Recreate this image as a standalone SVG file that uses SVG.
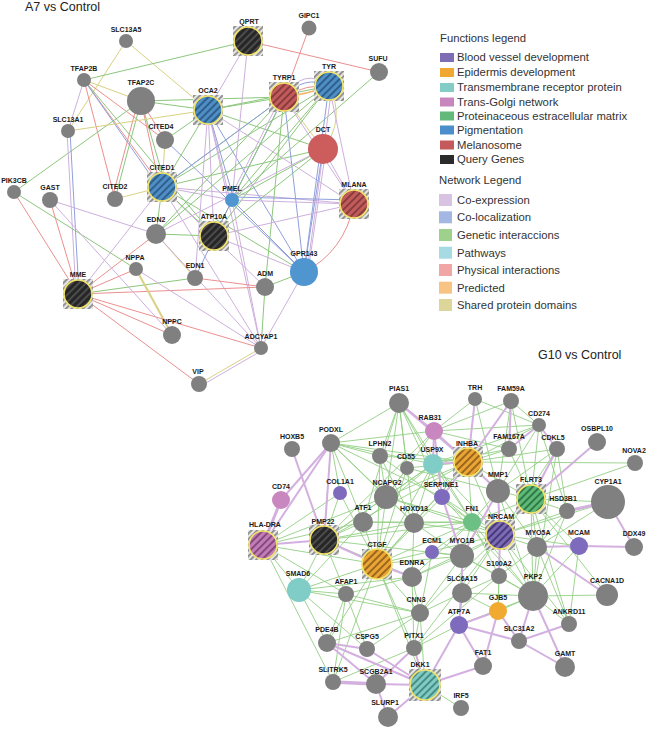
<svg xmlns="http://www.w3.org/2000/svg" width="650" height="730" viewBox="0 0 650 730">
<style>
.t{font-family:"Liberation Sans",Arial,sans-serif;font-size:12.5px;fill:#222}
.lg{font-family:"Liberation Sans",Arial,sans-serif;font-size:11.3px;fill:#333}
.l{font-family:"Liberation Sans",Arial,sans-serif;font-size:7px;font-weight:bold;fill:#1a1a1a;text-anchor:middle}
.n{fill:#808080}
.ring{stroke:#f2e46a;stroke-width:1.6}
#edges line,#edges path{fill:none}
.r{stroke:#ec8f8f;stroke-width:1}
.g{stroke:#8cc77c;stroke-width:1}
.p{stroke:#cdb0dd;stroke-width:1}
.b{stroke:#8f9fdc;stroke-width:1}
.y{stroke:#d9d183;stroke-width:1}
.o{stroke:#f3b56a;stroke-width:1.6}
.bg{stroke:#93cf84;stroke-width:0.9}
.bp{stroke:#d3b0df;stroke-width:2}
</style>
<defs>
<pattern id="hs" patternUnits="userSpaceOnUse" width="4" height="4" patternTransform="rotate(45)"><rect width="4" height="4" fill="#e6e6e6"/><rect width="1.8" height="4" fill="#8a8a8a"/></pattern>
<pattern id="hb" patternUnits="userSpaceOnUse" width="5" height="5" patternTransform="rotate(45)"><rect width="5" height="5" fill="#4f8fc6"/><rect width="2" height="5" fill="#2f5f8c"/></pattern>
<pattern id="hr" patternUnits="userSpaceOnUse" width="5" height="5" patternTransform="rotate(45)"><rect width="5" height="5" fill="#c25c5c"/><rect width="2" height="5" fill="#8a3b3b"/></pattern>
<pattern id="hk" patternUnits="userSpaceOnUse" width="5" height="5" patternTransform="rotate(45)"><rect width="5" height="5" fill="#262626"/><rect width="2" height="5" fill="#4c4c4c"/></pattern>
<pattern id="ho" patternUnits="userSpaceOnUse" width="5" height="5" patternTransform="rotate(45)"><rect width="5" height="5" fill="#eaa533"/><rect width="2" height="5" fill="#9a6620"/></pattern>
<pattern id="hp" patternUnits="userSpaceOnUse" width="5" height="5" patternTransform="rotate(45)"><rect width="5" height="5" fill="#c27db7"/><rect width="2" height="5" fill="#864a7e"/></pattern>
<pattern id="hg" patternUnits="userSpaceOnUse" width="5" height="5" patternTransform="rotate(45)"><rect width="5" height="5" fill="#5fba7a"/><rect width="2" height="5" fill="#2f7a46"/></pattern>
<pattern id="hv" patternUnits="userSpaceOnUse" width="5" height="5" patternTransform="rotate(45)"><rect width="5" height="5" fill="#7c6ab3"/><rect width="2" height="5" fill="#463a7c"/></pattern>
<pattern id="ht" patternUnits="userSpaceOnUse" width="5" height="5" patternTransform="rotate(45)"><rect width="5" height="5" fill="#80ccc5"/><rect width="2" height="5" fill="#4a8c86"/></pattern>
</defs>
<rect width="650" height="730" fill="#ffffff"/>
<text class="t" x="25" y="11">A7 vs Control</text>
<text class="t" x="538" y="359">G10 vs Control</text>

<g id="legend">
<text class="lg" x="440" y="42">Functions legend</text>
<rect x="440" y="53" width="14" height="9" fill="#7e6cb4"/><text class="lg" x="457" y="61.3">Blood vessel development</text>
<rect x="440" y="68" width="14" height="9" fill="#f0a832"/><text class="lg" x="457" y="76.3">Epidermis development</text>
<rect x="440" y="83" width="14" height="9" fill="#83cdc6"/><text class="lg" x="457" y="91.3">Transmembrane receptor protein</text>
<rect x="440" y="97.5" width="14" height="9" fill="#c787be"/><text class="lg" x="457" y="105.7">Trans-Golgi network</text>
<rect x="440" y="111.5" width="14" height="9" fill="#63b97a"/><text class="lg" x="457" y="120">Proteinaceous estracellular matrix</text>
<rect x="440" y="125.5" width="14" height="9" fill="#4a8fcc"/><text class="lg" x="457" y="134">Pigmentation</text>
<rect x="440" y="140.5" width="14" height="9" fill="#c45a5a"/><text class="lg" x="457" y="149">Melanosome</text>
<rect x="440" y="155" width="14" height="9" fill="#2b2b2b"/><text class="lg" x="457" y="163.3">Query Genes</text>
<text class="lg" x="439" y="184">Network Legend</text>
<rect x="439" y="194" width="13" height="12" fill="#d9c3e3"/><text class="lg" x="457" y="204">Co-expression</text>
<rect x="439" y="211.3" width="13" height="12" fill="#a4b7e3"/><text class="lg" x="457" y="221.3">Co-localization</text>
<rect x="439" y="229" width="13" height="12" fill="#9dd18c"/><text class="lg" x="457" y="239">Genetic interaccions</text>
<rect x="439" y="246.7" width="13" height="12" fill="#a6dbe3"/><text class="lg" x="457" y="256.7">Pathways</text>
<rect x="439" y="264" width="13" height="12" fill="#f2a5a5"/><text class="lg" x="457" y="274">Physical interactions</text>
<rect x="439" y="281.7" width="13" height="12" fill="#f8c484"/><text class="lg" x="457" y="291.7">Predicted</text>
<rect x="439" y="299" width="13" height="12" fill="#dcd69a"/><text class="lg" x="457" y="309">Shared protein domains</text>
</g>

<g id="edges">
<line class="y" x1="126" y1="41" x2="208" y2="110"/>
<line class="y" x1="126" y1="41" x2="68" y2="131"/>
<line class="g" x1="84" y1="80" x2="248" y2="41"/>
<line class="y" x1="84" y1="80" x2="141" y2="101"/>
<line class="r" x1="84" y1="80" x2="165" y2="140"/>
<line class="r" x1="84" y1="80" x2="162" y2="187"/>
<line class="g" x1="84" y1="80" x2="214" y2="236"/>
<line class="b" x1="84" y1="80" x2="158" y2="186"/>
<line class="r" x1="84" y1="80" x2="115" y2="199"/>
<line class="p" x1="84" y1="80" x2="68" y2="131"/>
<line class="g" x1="141" y1="101" x2="208" y2="110"/>
<line class="r" x1="141" y1="101" x2="165" y2="140"/>
<line class="r" x1="141" y1="101" x2="160" y2="187"/>
<line class="g" x1="141" y1="101" x2="166" y2="187"/>
<line class="g" x1="141" y1="101" x2="115" y2="199"/>
<line class="r" x1="138" y1="101" x2="112" y2="199"/>
<line class="g" x1="141" y1="101" x2="14" y2="192"/>
<line class="g" x1="141" y1="101" x2="284" y2="97"/>
<line class="y" x1="68" y1="131" x2="208" y2="110"/>
<line class="p" x1="67" y1="131" x2="76" y2="294"/>
<line class="b" x1="70" y1="131" x2="79" y2="294"/>
<line class="y" x1="165" y1="140" x2="162" y2="187"/>
<line class="g" x1="165" y1="140" x2="208" y2="110"/>
<line class="b" x1="165" y1="140" x2="304" y2="272"/>
<line class="g" x1="162" y1="187" x2="208" y2="110"/>
<line class="g" x1="162" y1="187" x2="284" y2="97"/>
<line class="g" x1="162" y1="187" x2="329" y2="86"/>
<line class="g" x1="162" y1="187" x2="323" y2="149"/>
<line class="p" x1="162" y1="187" x2="232" y2="200"/>
<line class="p" x1="162" y1="187" x2="354" y2="204"/>
<line class="g" x1="162" y1="187" x2="304" y2="272"/>
<line class="p" x1="162" y1="187" x2="78" y2="294"/>
<line class="y" x1="162" y1="187" x2="115" y2="199"/>
<line class="g" x1="162" y1="187" x2="156" y2="234"/>
<line class="p" x1="162" y1="187" x2="265" y2="287"/>
<line class="g" x1="162" y1="187" x2="214" y2="236"/>
<line class="p" x1="162" y1="187" x2="261" y2="348"/>
<line class="p" x1="208" y1="110" x2="248" y2="41"/>
<line class="g" x1="208" y1="110" x2="284" y2="97"/>
<line class="g" x1="208" y1="110" x2="329" y2="86"/>
<line class="g" x1="208" y1="110" x2="323" y2="149"/>
<line class="p" x1="208" y1="110" x2="230" y2="200"/>
<line class="b" x1="208" y1="110" x2="234" y2="200"/>
<line class="p" x1="208" y1="110" x2="354" y2="204"/>
<line class="b" x1="208" y1="110" x2="304" y2="272"/>
<line class="p" x1="208" y1="110" x2="214" y2="236"/>
<line class="p" x1="208" y1="110" x2="195" y2="278"/>
<line class="p" x1="208" y1="110" x2="261" y2="348"/>
<line class="r" x1="248" y1="41" x2="379" y2="72"/>
<line class="p" x1="248" y1="41" x2="232" y2="200"/>
<line class="r" x1="309" y1="28" x2="284" y2="97"/>
<line class="g" x1="379" y1="72" x2="232" y2="200"/>
<path class="p" d="M284,97 Q304,66 329,86"/>
<path class="b" d="M284,97 Q305,74 329,86"/>
<path class="r" d="M284,97 Q306,84 329,86"/>
<path class="o" d="M284,97 Q308,94 329,86"/>
<line class="y" x1="284" y1="97" x2="323" y2="149"/>
<path class="y" d="M329,86 Q346,120 323,149"/>
<line class="b" x1="284" y1="97" x2="232" y2="200"/>
<line class="p" x1="281" y1="97" x2="229" y2="200"/>
<line class="p" x1="284" y1="97" x2="354" y2="204"/>
<line class="b" x1="284" y1="97" x2="304" y2="272"/>
<line class="g" x1="284" y1="97" x2="214" y2="236"/>
<line class="g" x1="284" y1="97" x2="156" y2="234"/>
<line class="g" x1="284" y1="97" x2="265" y2="287"/>
<line class="b" x1="284" y1="97" x2="162" y2="187"/>
<line class="p" x1="329" y1="86" x2="354" y2="204"/>
<line class="b" x1="329" y1="86" x2="304" y2="272"/>
<line class="p" x1="332" y1="86" x2="307" y2="272"/>
<line class="g" x1="329" y1="86" x2="232" y2="200"/>
<line class="g" x1="329" y1="86" x2="156" y2="234"/>
<line class="g" x1="329" y1="86" x2="214" y2="236"/>
<line class="p" x1="323" y1="149" x2="354" y2="204"/>
<line class="b" x1="323" y1="149" x2="304" y2="272"/>
<line class="p" x1="326" y1="149" x2="308" y2="272"/>
<line class="g" x1="323" y1="149" x2="232" y2="200"/>
<line class="g" x1="323" y1="149" x2="214" y2="236"/>
<line class="p" x1="323" y1="149" x2="156" y2="234"/>
<line class="p" x1="232" y1="200" x2="354" y2="204"/>
<line class="b" x1="232" y1="197" x2="354" y2="200"/>
<line class="b" x1="232" y1="200" x2="304" y2="272"/>
<line class="p" x1="232" y1="200" x2="261" y2="348"/>
<line class="b" x1="232" y1="200" x2="195" y2="278"/>
<path class="r" d="M354,204 Q344,252 304,272"/>
<line class="p" x1="354" y1="204" x2="214" y2="236"/>
<line class="p" x1="214" y1="236" x2="304" y2="272"/>
<line class="g" x1="214" y1="236" x2="156" y2="234"/>
<line class="y" x1="156" y1="234" x2="195" y2="278"/>
<line class="r" x1="156" y1="234" x2="78" y2="294"/>
<line class="p" x1="156" y1="234" x2="50" y2="200"/>
<line class="p" x1="156" y1="234" x2="261" y2="348"/>
<line class="g" x1="304" y1="272" x2="265" y2="287"/>
<line class="p" x1="304" y1="272" x2="261" y2="348"/>
<line class="g" x1="265" y1="287" x2="261" y2="348"/>
<line class="r" x1="78" y1="294" x2="265" y2="287"/>
<line class="r" x1="195" y1="278" x2="265" y2="287"/>
<line class="g" x1="78" y1="294" x2="195" y2="278"/>
<line class="y" x1="136" y1="269" x2="172" y2="335" style="stroke-width:2"/>
<line class="r" x1="136" y1="269" x2="78" y2="294"/>
<line class="p" x1="136" y1="269" x2="261" y2="348"/>
<line class="g" x1="136" y1="269" x2="14" y2="192"/>
<line class="r" x1="78" y1="294" x2="14" y2="192"/>
<line class="r" x1="78" y1="294" x2="50" y2="200"/>
<line class="r" x1="78" y1="294" x2="172" y2="335"/>
<line class="r" x1="78" y1="294" x2="199" y2="384"/>
<line class="r" x1="78" y1="294" x2="261" y2="348"/>
<line class="p" x1="50" y1="200" x2="172" y2="335"/>
<line class="y" x1="199" y1="384" x2="261" y2="348"/>
<line class="p" x1="199" y1="387" x2="261" y2="351"/>

<line class="bg" x1="399" y1="403" x2="331" y2="443"/>
<line class="bg" x1="399" y1="403" x2="380" y2="456"/>
<line class="bg" x1="399" y1="403" x2="386" y2="497"/>
<line class="bg" x1="399" y1="403" x2="433" y2="464"/>
<line class="bg" x1="399" y1="403" x2="407" y2="468"/>
<line class="bg" x1="399" y1="403" x2="414" y2="523"/>
<line class="bg" x1="399" y1="403" x2="363" y2="522"/>
<line class="bg" x1="399" y1="403" x2="472" y2="522"/>
<line class="bg" x1="399" y1="403" x2="442" y2="497"/>
<line class="bg" x1="331" y1="443" x2="340" y2="493"/>
<line class="bg" x1="331" y1="443" x2="386" y2="497"/>
<line class="bg" x1="331" y1="443" x2="363" y2="522"/>
<line class="bg" x1="331" y1="443" x2="414" y2="523"/>
<line class="bg" x1="331" y1="443" x2="434" y2="431"/>
<line class="bg" x1="331" y1="443" x2="433" y2="464"/>
<line class="bg" x1="331" y1="443" x2="468" y2="462"/>
<line class="bg" x1="331" y1="443" x2="324" y2="540"/>
<line class="bg" x1="331" y1="443" x2="442" y2="497"/>
<line class="bg" x1="331" y1="443" x2="380" y2="456"/>
<line class="bg" x1="380" y1="456" x2="386" y2="497"/>
<line class="bg" x1="380" y1="456" x2="414" y2="523"/>
<line class="bg" x1="380" y1="456" x2="468" y2="462"/>
<line class="bg" x1="380" y1="456" x2="377" y2="564"/>
<line class="bg" x1="380" y1="456" x2="472" y2="522"/>
<line class="bg" x1="407" y1="468" x2="468" y2="462"/>
<line class="bg" x1="407" y1="468" x2="386" y2="497"/>
<line class="bg" x1="407" y1="468" x2="377" y2="564"/>
<line class="bg" x1="407" y1="468" x2="498" y2="491"/>
<line class="bg" x1="433" y1="464" x2="386" y2="497"/>
<line class="bg" x1="433" y1="464" x2="324" y2="540"/>
<line class="bg" x1="433" y1="464" x2="377" y2="564"/>
<line class="bg" x1="433" y1="464" x2="363" y2="522"/>
<line class="bg" x1="433" y1="464" x2="414" y2="523"/>
<line class="bg" x1="433" y1="464" x2="472" y2="522"/>
<line class="bg" x1="433" y1="464" x2="500" y2="535"/>
<line class="bg" x1="434" y1="431" x2="509" y2="449"/>
<line class="bg" x1="434" y1="431" x2="539" y2="425"/>
<line class="bg" x1="434" y1="431" x2="324" y2="540"/>
<line class="bg" x1="434" y1="431" x2="386" y2="497"/>
<line class="bg" x1="475" y1="399" x2="498" y2="491"/>
<line class="bg" x1="475" y1="399" x2="539" y2="425"/>
<line class="bg" x1="475" y1="399" x2="434" y2="431"/>
<line class="bg" x1="511" y1="401" x2="539" y2="425"/>
<line class="bg" x1="511" y1="401" x2="434" y2="431"/>
<line class="bg" x1="511" y1="401" x2="531" y2="499"/>
<line class="bg" x1="511" y1="401" x2="498" y2="491"/>
<line class="bg" x1="539" y1="425" x2="468" y2="462"/>
<line class="bg" x1="539" y1="425" x2="531" y2="499"/>
<line class="bg" x1="539" y1="425" x2="567" y2="511"/>
<line class="bg" x1="539" y1="425" x2="498" y2="491"/>
<line class="bg" x1="539" y1="425" x2="433" y2="464"/>
<line class="bg" x1="509" y1="449" x2="468" y2="462"/>
<line class="bg" x1="509" y1="449" x2="531" y2="499"/>
<line class="bg" x1="509" y1="449" x2="433" y2="464"/>
<line class="bg" x1="557" y1="449" x2="468" y2="462"/>
<line class="bg" x1="557" y1="449" x2="498" y2="491"/>
<line class="bg" x1="557" y1="449" x2="567" y2="511"/>
<line class="bg" x1="557" y1="449" x2="500" y2="535"/>
<line class="bg" x1="557" y1="449" x2="533" y2="596"/>
<line class="bg" x1="635" y1="463" x2="468" y2="462"/>
<line class="bg" x1="635" y1="463" x2="531" y2="499"/>
<line class="bg" x1="468" y1="462" x2="386" y2="497"/>
<line class="bg" x1="468" y1="462" x2="472" y2="522"/>
<line class="bg" x1="468" y1="462" x2="377" y2="564"/>
<line class="bg" x1="468" y1="462" x2="324" y2="540"/>
<line class="bg" x1="468" y1="462" x2="414" y2="523"/>
<line class="bg" x1="468" y1="462" x2="500" y2="535"/>
<line class="bg" x1="468" y1="462" x2="531" y2="499"/>
<line class="bg" x1="340" y1="493" x2="377" y2="564"/>
<line class="bg" x1="340" y1="493" x2="324" y2="540"/>
<line class="bg" x1="340" y1="493" x2="263" y2="545"/>
<line class="bg" x1="386" y1="497" x2="377" y2="564"/>
<line class="bg" x1="386" y1="497" x2="324" y2="540"/>
<line class="bg" x1="386" y1="497" x2="414" y2="523"/>
<line class="bg" x1="386" y1="497" x2="472" y2="522"/>
<line class="bg" x1="386" y1="497" x2="500" y2="535"/>
<line class="bg" x1="386" y1="497" x2="263" y2="545"/>
<line class="bg" x1="442" y1="497" x2="377" y2="564"/>
<line class="bg" x1="442" y1="497" x2="472" y2="522"/>
<line class="bg" x1="442" y1="497" x2="533" y2="596"/>
<line class="bg" x1="442" y1="497" x2="500" y2="535"/>
<line class="bg" x1="363" y1="522" x2="324" y2="540"/>
<line class="bg" x1="363" y1="522" x2="377" y2="564"/>
<line class="bg" x1="363" y1="522" x2="414" y2="523"/>
<line class="bg" x1="363" y1="522" x2="299" y2="590"/>
<line class="bg" x1="363" y1="522" x2="263" y2="545"/>
<line class="bg" x1="363" y1="522" x2="472" y2="522"/>
<line class="bg" x1="414" y1="523" x2="377" y2="564"/>
<line class="bg" x1="414" y1="523" x2="472" y2="522"/>
<line class="bg" x1="414" y1="523" x2="500" y2="535"/>
<line class="bg" x1="414" y1="523" x2="462" y2="556"/>
<line class="bg" x1="414" y1="523" x2="324" y2="540"/>
<line class="bg" x1="414" y1="523" x2="412" y2="577"/>
<line class="bg" x1="324" y1="540" x2="299" y2="590"/>
<line class="bg" x1="324" y1="540" x2="346" y2="594"/>
<line class="bg" x1="324" y1="540" x2="472" y2="522"/>
<line class="bg" x1="324" y1="540" x2="412" y2="577"/>
<line class="bg" x1="324" y1="540" x2="462" y2="556"/>
<line class="bg" x1="263" y1="545" x2="299" y2="590"/>
<line class="bg" x1="263" y1="545" x2="333" y2="682"/>
<line class="bg" x1="263" y1="545" x2="377" y2="564"/>
<line class="bg" x1="263" y1="545" x2="346" y2="594"/>
<line class="bg" x1="299" y1="590" x2="377" y2="564"/>
<line class="bg" x1="299" y1="590" x2="346" y2="594"/>
<line class="bg" x1="299" y1="590" x2="420" y2="613"/>
<line class="bg" x1="299" y1="590" x2="412" y2="577"/>
<line class="bg" x1="299" y1="590" x2="367" y2="649"/>
<line class="bg" x1="299" y1="590" x2="327" y2="643"/>
<line class="bg" x1="377" y1="564" x2="472" y2="522"/>
<line class="bg" x1="377" y1="564" x2="462" y2="556"/>
<line class="bg" x1="377" y1="564" x2="500" y2="535"/>
<line class="bg" x1="377" y1="564" x2="420" y2="613"/>
<line class="bg" x1="377" y1="564" x2="327" y2="643"/>
<line class="bg" x1="377" y1="564" x2="333" y2="682"/>
<line class="bg" x1="377" y1="564" x2="414" y2="648"/>
<line class="bg" x1="377" y1="564" x2="425" y2="685"/>
<line class="bg" x1="346" y1="594" x2="327" y2="643"/>
<line class="bg" x1="346" y1="594" x2="420" y2="613"/>
<line class="bg" x1="346" y1="594" x2="412" y2="577"/>
<line class="bg" x1="346" y1="594" x2="333" y2="682"/>
<line class="bg" x1="346" y1="594" x2="367" y2="649"/>
<line class="bg" x1="412" y1="577" x2="420" y2="613"/>
<line class="bg" x1="412" y1="577" x2="472" y2="522"/>
<line class="bg" x1="412" y1="577" x2="462" y2="556"/>
<line class="bg" x1="412" y1="577" x2="414" y2="648"/>
<line class="bg" x1="412" y1="577" x2="500" y2="535"/>
<line class="bg" x1="432" y1="552" x2="472" y2="522"/>
<line class="bg" x1="432" y1="552" x2="462" y2="556"/>
<line class="bg" x1="432" y1="552" x2="420" y2="613"/>
<line class="bg" x1="472" y1="522" x2="500" y2="535"/>
<line class="bg" x1="472" y1="522" x2="462" y2="556"/>
<line class="bg" x1="472" y1="522" x2="498" y2="491"/>
<line class="bg" x1="472" y1="522" x2="531" y2="499"/>
<line class="bg" x1="472" y1="522" x2="533" y2="596"/>
<line class="bg" x1="472" y1="522" x2="499" y2="576"/>
<line class="bg" x1="498" y1="491" x2="531" y2="499"/>
<line class="bg" x1="498" y1="491" x2="537" y2="547"/>
<line class="bg" x1="498" y1="491" x2="533" y2="596"/>
<line class="bg" x1="531" y1="499" x2="500" y2="535"/>
<line class="bg" x1="531" y1="499" x2="567" y2="511"/>
<line class="bg" x1="531" y1="499" x2="608" y2="502"/>
<line class="bg" x1="531" y1="499" x2="537" y2="547"/>
<line class="bg" x1="531" y1="499" x2="533" y2="596"/>
<line class="bg" x1="531" y1="499" x2="569" y2="624"/>
<line class="bg" x1="531" y1="499" x2="579" y2="546"/>
<line class="bg" x1="608" y1="502" x2="500" y2="535"/>
<line class="bg" x1="608" y1="502" x2="537" y2="547"/>
<line class="bg" x1="567" y1="511" x2="537" y2="547"/>
<line class="bg" x1="567" y1="511" x2="533" y2="596"/>
<line class="bg" x1="567" y1="511" x2="500" y2="535"/>
<line class="bg" x1="500" y1="535" x2="462" y2="556"/>
<line class="bg" x1="500" y1="535" x2="533" y2="596"/>
<line class="bg" x1="500" y1="535" x2="537" y2="547"/>
<line class="bg" x1="500" y1="535" x2="462" y2="593"/>
<line class="bg" x1="500" y1="535" x2="569" y2="624"/>
<line class="bg" x1="462" y1="556" x2="499" y2="576"/>
<line class="bg" x1="462" y1="556" x2="533" y2="596"/>
<line class="bg" x1="462" y1="556" x2="420" y2="613"/>
<line class="bg" x1="462" y1="556" x2="459" y2="625"/>
<line class="bg" x1="537" y1="547" x2="533" y2="596"/>
<line class="bg" x1="537" y1="547" x2="569" y2="624"/>
<line class="bg" x1="537" y1="547" x2="499" y2="576"/>
<line class="bg" x1="579" y1="546" x2="533" y2="596"/>
<line class="bg" x1="579" y1="546" x2="569" y2="624"/>
<line class="bg" x1="579" y1="546" x2="500" y2="535"/>
<line class="bg" x1="607" y1="595" x2="533" y2="596"/>
<line class="bg" x1="607" y1="595" x2="531" y2="499"/>
<line class="bg" x1="499" y1="576" x2="533" y2="596"/>
<line class="bg" x1="499" y1="576" x2="498" y2="611"/>
<line class="bg" x1="499" y1="576" x2="462" y2="593"/>
<line class="bg" x1="533" y1="596" x2="569" y2="624"/>
<line class="bg" x1="533" y1="596" x2="462" y2="593"/>
<line class="bg" x1="533" y1="596" x2="498" y2="611"/>
<line class="bg" x1="533" y1="596" x2="459" y2="625"/>
<line class="bg" x1="462" y1="593" x2="420" y2="613"/>
<line class="bg" x1="462" y1="593" x2="498" y2="611"/>
<line class="bg" x1="420" y1="613" x2="414" y2="648"/>
<line class="bg" x1="420" y1="613" x2="327" y2="643"/>
<line class="bg" x1="420" y1="613" x2="425" y2="685"/>
<line class="bg" x1="420" y1="613" x2="367" y2="649"/>
<line class="bg" x1="420" y1="613" x2="500" y2="535"/>
<line class="bg" x1="459" y1="625" x2="414" y2="648"/>
<line class="bg" x1="498" y1="611" x2="519" y2="641"/>
<line class="bg" x1="498" y1="611" x2="500" y2="535"/>
<line class="bg" x1="414" y1="648" x2="425" y2="685"/>
<line class="bg" x1="414" y1="648" x2="333" y2="682"/>
<line class="bg" x1="414" y1="648" x2="500" y2="535"/>
<line class="bg" x1="414" y1="648" x2="499" y2="576"/>
<line class="bg" x1="425" y1="685" x2="461" y2="708"/>

<line class="bp" x1="399" y1="403" x2="434" y2="431"/>
<line class="bp" x1="399" y1="403" x2="468" y2="462"/>
<line class="bp" x1="292" y1="449" x2="324" y2="540"/>
<line class="bp" x1="331" y1="443" x2="263" y2="545"/>
<line class="bp" x1="331" y1="443" x2="281" y2="500"/>
<line class="bp" x1="331" y1="443" x2="324" y2="540"/>
<line class="bp" x1="281" y1="500" x2="263" y2="545" style="stroke-width:3"/>
<line class="bp" x1="434" y1="431" x2="433" y2="464"/>
<line class="bp" x1="434" y1="431" x2="468" y2="462"/>
<line class="bp" x1="434" y1="431" x2="442" y2="497"/>
<line class="bp" x1="475" y1="399" x2="468" y2="462"/>
<line class="bp" x1="511" y1="401" x2="509" y2="449"/>
<line class="bp" x1="511" y1="401" x2="468" y2="462"/>
<line class="bp" x1="539" y1="425" x2="557" y2="449"/>
<line class="bp" x1="539" y1="425" x2="509" y2="449"/>
<line class="bp" x1="597" y1="442" x2="531" y2="499"/>
<line class="bp" x1="557" y1="449" x2="531" y2="499"/>
<line class="bp" x1="468" y1="462" x2="442" y2="497"/>
<line class="bp" x1="468" y1="462" x2="498" y2="491"/>
<line class="bp" x1="468" y1="462" x2="433" y2="464"/>
<line class="bp" x1="608" y1="502" x2="567" y2="511" style="stroke-width:3"/>
<line class="bp" x1="608" y1="502" x2="634" y2="547"/>
<line class="bp" x1="579" y1="546" x2="634" y2="547"/>
<line class="bp" x1="579" y1="546" x2="537" y2="547"/>
<line class="bp" x1="607" y1="595" x2="537" y2="547"/>
<line class="bp" x1="498" y1="491" x2="462" y2="556"/>
<line class="bp" x1="498" y1="491" x2="500" y2="535"/>
<line class="bp" x1="442" y1="497" x2="462" y2="556"/>
<line class="bp" x1="500" y1="535" x2="499" y2="576"/>
<line class="bp" x1="462" y1="556" x2="462" y2="593"/>
<line class="bp" x1="533" y1="596" x2="565" y2="667"/>
<line class="bp" x1="533" y1="596" x2="519" y2="641"/>
<line class="bp" x1="569" y1="624" x2="519" y2="641"/>
<line class="bp" x1="519" y1="641" x2="565" y2="667"/>
<line class="bp" x1="519" y1="641" x2="498" y2="611"/>
<line class="bp" x1="459" y1="625" x2="519" y2="641"/>
<line class="bp" x1="498" y1="611" x2="483" y2="666"/>
<line class="bp" x1="498" y1="611" x2="459" y2="625"/>
<line class="bp" x1="483" y1="666" x2="425" y2="685"/>
<line class="bp" x1="483" y1="666" x2="459" y2="625"/>
<line class="bp" x1="459" y1="625" x2="425" y2="685"/>
<line class="bp" x1="459" y1="625" x2="462" y2="593"/>
<line class="bp" x1="425" y1="685" x2="376" y2="684"/>
<line class="bp" x1="425" y1="685" x2="388" y2="717"/>
<line class="bp" x1="425" y1="685" x2="414" y2="648"/>
<line class="bp" x1="425" y1="685" x2="367" y2="649"/>
<line class="bp" x1="425" y1="685" x2="327" y2="643"/>
<line class="bp" x1="333" y1="682" x2="376" y2="684" style="stroke-width:3.5"/>
<line class="bp" x1="376" y1="684" x2="388" y2="717"/>
<line class="bp" x1="376" y1="684" x2="327" y2="643"/>
<line class="bp" x1="327" y1="643" x2="367" y2="649"/>
<line class="bp" x1="414" y1="648" x2="376" y2="684"/>
<line class="bp" x1="263" y1="545" x2="324" y2="540"/>
<line class="bp" x1="377" y1="564" x2="412" y2="577"/>
<line class="bp" x1="377" y1="564" x2="324" y2="540"/>
</g>

<g id="n-SLC13A5"><circle class="n" cx="126" cy="41" r="7"/><text class="l" x="126" y="31.5">SLC13A5</text></g>
<g id="n-TFAP2B"><circle class="n" cx="84" cy="80" r="7"/><text class="l" x="84" y="70.5">TFAP2B</text></g>
<g id="n-TFAP2C"><circle class="n" cx="141" cy="101" r="14"/><text class="l" x="141" y="84.5">TFAP2C</text></g>
<g id="n-SLC13A1"><circle class="n" cx="68" cy="131" r="7"/><text class="l" x="68" y="121.5">SLC13A1</text></g>
<g id="n-CITED4"><circle class="n" cx="165" cy="140" r="9"/><text class="l" x="161" y="128.5">CITED4</text></g>
<g id="n-CITED1"><rect x="147" y="172" width="30" height="30" fill="url(#hs)"/><circle class="ring" cx="162" cy="187" r="14" fill="url(#hb)"/><text class="l" x="162" y="170">CITED1</text></g>
<g id="n-PIK3CB"><circle class="n" cx="14" cy="192" r="7"/><text class="l" x="14" y="182.5">PIK3CB</text></g>
<g id="n-GAST"><circle class="n" cx="50" cy="200" r="8"/><text class="l" x="50" y="189.5">GAST</text></g>
<g id="n-CITED2"><circle class="n" cx="115" cy="199" r="8"/><text class="l" x="115" y="188.5">CITED2</text></g>
<g id="n-OCA2"><rect x="193" y="95" width="30" height="30" fill="url(#hs)"/><circle class="ring" cx="208" cy="110" r="14" fill="url(#hb)"/><text class="l" x="208" y="93">OCA2</text></g>
<g id="n-QPRT"><rect x="233" y="26" width="30" height="30" fill="url(#hs)"/><circle class="ring" cx="248" cy="41" r="14" fill="url(#hk)"/><text class="l" x="249" y="24">QPRT</text></g>
<g id="n-GIPC1"><circle class="n" cx="309" cy="28" r="7.5"/><text class="l" x="309" y="18">GIPC1</text></g>
<g id="n-SUFU"><circle class="n" cx="379" cy="72" r="9"/><text class="l" x="378" y="60.5">SUFU</text></g>
<g id="n-TYRP1"><rect x="269" y="82" width="30" height="30" fill="url(#hs)"/><circle class="ring" cx="284" cy="97" r="14" fill="url(#hr)"/><text class="l" x="284" y="80">TYRP1</text></g>
<g id="n-TYR"><rect x="314" y="71" width="30" height="30" fill="url(#hs)"/><circle class="ring" cx="329" cy="86" r="14" fill="url(#hb)"/><text class="l" x="329" y="69">TYR</text></g>
<g id="n-DCT"><circle cx="323" cy="149" r="15" fill="#cd5c5c"/><text class="l" x="323" y="131.5">DCT</text></g>
<g id="n-PMEL"><circle cx="232" cy="200" r="7" fill="#4f95d0"/><text class="l" x="232" y="190.5">PMEL</text></g>
<g id="n-MLANA"><rect x="339" y="189" width="30" height="30" fill="url(#hs)"/><circle class="ring" cx="354" cy="204" r="14" fill="url(#hr)"/><text class="l" x="354" y="187">MLANA</text></g>
<g id="n-ATP10A"><rect x="199" y="221" width="30" height="30" fill="url(#hs)"/><circle class="ring" cx="214" cy="236" r="14" fill="url(#hk)"/><text class="l" x="214" y="219">ATP10A</text></g>
<g id="n-EDN2"><circle class="n" cx="156" cy="234" r="10"/><text class="l" x="156" y="221.5">EDN2</text></g>
<g id="n-GPR143"><circle cx="304" cy="272" r="14" fill="#4f95d0"/><text class="l" x="304" y="255.5">GPR143</text></g>
<g id="n-NPPA"><circle class="n" cx="136" cy="269" r="7"/><text class="l" x="135" y="259.5">NPPA</text></g>
<g id="n-EDN1"><circle class="n" cx="195" cy="278" r="8"/><text class="l" x="195" y="267.5">EDN1</text></g>
<g id="n-ADM"><circle class="n" cx="265" cy="287" r="9"/><text class="l" x="265" y="275.5">ADM</text></g>
<g id="n-MME"><rect x="63" y="279" width="30" height="30" fill="url(#hs)"/><circle class="ring" cx="78" cy="294" r="14" fill="url(#hk)"/><text class="l" x="78" y="277">MME</text></g>
<g id="n-NPPC"><circle class="n" cx="172" cy="335" r="9"/><text class="l" x="172" y="323.5">NPPC</text></g>
<g id="n-ADCYAP1"><circle class="n" cx="261" cy="348" r="7"/><text class="l" x="261" y="339">ADCYAP1</text></g>
<g id="n-VIP"><circle class="n" cx="199" cy="384" r="8"/><text class="l" x="198" y="374">VIP</text></g>

<g id="n-PIAS1"><circle class="n" cx="399" cy="403" r="10"/><text class="l" x="399" y="391">PIAS1</text></g>
<g id="n-RAB31"><circle cx="434" cy="431" r="9" fill="#c887bf"/><text class="l" x="430" y="419.5">RAB31</text></g>
<g id="n-HOXB5"><circle class="n" cx="292" cy="449" r="8"/><text class="l" x="292" y="438.5">HOXB5</text></g>
<g id="n-PODXL"><circle class="n" cx="331" cy="443" r="9"/><text class="l" x="331" y="431.5">PODXL</text></g>
<g id="n-LPHN2"><circle class="n" cx="380" cy="456" r="8"/><text class="l" x="380" y="445.5">LPHN2</text></g>
<g id="n-CD55"><circle class="n" cx="407" cy="468" r="7"/><text class="l" x="406" y="458.5">CD55</text></g>
<g id="n-USP9X"><circle cx="433" cy="464" r="10" fill="#80ccc6"/><text class="l" x="432" y="451.5">USP9X</text></g>
<g id="n-COL1A1"><circle cx="340" cy="493" r="7" fill="#7e6bbd"/><text class="l" x="340" y="483.5">COL1A1</text></g>
<g id="n-NCAPG2"><circle class="n" cx="386" cy="497" r="12"/><text class="l" x="387" y="484.5">NCAPG2</text></g>
<g id="n-SERPINE1"><circle cx="442" cy="497" r="8" fill="#7e6bbd"/><text class="l" x="441" y="486.5">SERPINE1</text></g>
<g id="n-CD74"><circle cx="281" cy="500" r="9" fill="#c887bf"/><text class="l" x="281" y="488.5">CD74</text></g>
<g id="n-ATF1"><circle class="n" cx="363" cy="522" r="10"/><text class="l" x="363" y="509.5">ATF1</text></g>
<g id="n-HOXD13"><circle class="n" cx="414" cy="523" r="10"/><text class="l" x="414" y="510.5">HOXD13</text></g>
<g id="n-PMP22"><rect x="309" y="525" width="30" height="30" fill="url(#hs)"/><circle class="ring" cx="324" cy="540" r="14" fill="url(#hk)"/><text class="l" x="323" y="523.5">PMP22</text></g>
<g id="n-HLA-DRA"><rect x="248" y="530" width="30" height="30" fill="url(#hs)"/><circle class="ring" cx="263" cy="545" r="14" fill="url(#hp)"/><text class="l" x="265" y="527">HLA-DRA</text></g>
<g id="n-TRH"><circle class="n" cx="475" cy="399" r="7"/><text class="l" x="475" y="389.5">TRH</text></g>
<g id="n-FAM59A"><circle class="n" cx="511" cy="401" r="8"/><text class="l" x="511" y="390.5">FAM59A</text></g>
<g id="n-CD274"><circle class="n" cx="539" cy="425" r="7"/><text class="l" x="539" y="415.5">CD274</text></g>
<g id="n-OSBPL10"><circle class="n" cx="597" cy="442" r="9"/><text class="l" x="597" y="430.5">OSBPL10</text></g>
<g id="n-FAM167A"><circle class="n" cx="509" cy="449" r="8"/><text class="l" x="509" y="438.5">FAM167A</text></g>
<g id="n-CDKL5"><circle class="n" cx="557" cy="449" r="8"/><text class="l" x="553" y="439.5">CDKL5</text></g>
<g id="n-NOVA2"><circle class="n" cx="635" cy="463" r="8"/><text class="l" x="634" y="452.5">NOVA2</text></g>
<g id="n-INHBA"><rect x="453" y="447" width="30" height="30" fill="url(#hs)"/><circle class="ring" cx="468" cy="462" r="14" fill="url(#ho)"/><text class="l" x="467" y="445.5">INHBA</text></g>
<g id="n-MMP1"><circle class="n" cx="498" cy="491" r="12"/><text class="l" x="498" y="476.5">MMP1</text></g>
<g id="n-FLRT3"><rect x="516" y="484" width="30" height="30" fill="url(#hs)"/><circle class="ring" cx="531" cy="499" r="14" fill="url(#hg)"/><text class="l" x="531" y="482">FLRT3</text></g>
<g id="n-CYP1A1"><circle class="n" cx="608" cy="502" r="17"/><text class="l" x="608" y="484">CYP1A1</text></g>
<g id="n-HSD3B1"><circle class="n" cx="567" cy="511" r="8"/><text class="l" x="563" y="501">HSD3B1</text></g>
<g id="n-FN1"><circle cx="472" cy="522" r="9" fill="#6cc083"/><text class="l" x="472" y="511">FN1</text></g>
<g id="n-NRCAM"><rect x="485" y="520" width="30" height="30" fill="url(#hs)"/><circle class="ring" cx="500" cy="535" r="14" fill="url(#hv)"/><text class="l" x="501" y="518.5">NRCAM</text></g>
<g id="n-MYO1B"><circle class="n" cx="462" cy="556" r="12"/><text class="l" x="462" y="543">MYO1B</text></g>
<g id="n-MYO5A"><circle class="n" cx="537" cy="547" r="10"/><text class="l" x="538" y="535">MYO5A</text></g>
<g id="n-MCAM"><circle cx="579" cy="546" r="9" fill="#7e6bbd"/><text class="l" x="579" y="534.5">MCAM</text></g>
<g id="n-DDX49"><circle class="n" cx="634" cy="547" r="9"/><text class="l" x="634" y="535.5">DDX49</text></g>
<g id="n-S100A2"><circle class="n" cx="499" cy="576" r="8"/><text class="l" x="499" y="565.5">S100A2</text></g>
<g id="n-SLC6A15"><circle class="n" cx="462" cy="593" r="10"/><text class="l" x="462" y="581">SLC6A15</text></g>
<g id="n-PKP2"><circle class="n" cx="533" cy="596" r="15"/><text class="l" x="533" y="579">PKP2</text></g>
<g id="n-CACNA1D"><circle class="n" cx="607" cy="595" r="11"/><text class="l" x="607" y="583">CACNA1D</text></g>
<g id="n-GJB5"><circle cx="498" cy="611" r="9" fill="#f0aa30"/><text class="l" x="498" y="600">GJB5</text></g>
<g id="n-ATP7A"><circle cx="459" cy="625" r="9" fill="#7e6bbd"/><text class="l" x="459" y="614">ATP7A</text></g>
<g id="n-ANKRD11"><circle class="n" cx="569" cy="624" r="8"/><text class="l" x="569" y="614">ANKRD11</text></g>
<g id="n-SLC31A2"><circle class="n" cx="519" cy="641" r="8"/><text class="l" x="519" y="631">SLC31A2</text></g>
<g id="n-FAT1"><circle class="n" cx="483" cy="666" r="9"/><text class="l" x="483" y="654.5">FAT1</text></g>
<g id="n-GAMT"><circle class="n" cx="565" cy="667" r="10"/><text class="l" x="565" y="656">GAMT</text></g>
<g id="n-IRF5"><circle class="n" cx="461" cy="708" r="8"/><text class="l" x="461" y="698">IRF5</text></g>
<g id="n-CTGF"><rect x="362" y="549" width="30" height="30" fill="url(#hs)"/><circle class="ring" cx="377" cy="564" r="15" fill="url(#ho)"/><text class="l" x="377" y="546.5">CTGF</text></g>
<g id="n-ECM1"><circle cx="432" cy="552" r="7" fill="#7e6bbd"/><text class="l" x="432" y="542.5">ECM1</text></g>
<g id="n-EDNRA"><circle class="n" cx="412" cy="577" r="10"/><text class="l" x="412" y="565">EDNRA</text></g>
<g id="n-SMAD6"><circle cx="299" cy="590" r="12" fill="#80ccc6"/><text class="l" x="298" y="575.5">SMAD6</text></g>
<g id="n-AFAP1"><circle class="n" cx="346" cy="594" r="8"/><text class="l" x="346" y="584">AFAP1</text></g>
<g id="n-CNN3"><circle class="n" cx="420" cy="613" r="9"/><text class="l" x="416" y="602">CNN3</text></g>
<g id="n-PDE4B"><circle class="n" cx="327" cy="643" r="9"/><text class="l" x="327" y="631.5">PDE4B</text></g>
<g id="n-CSPG5"><circle class="n" cx="367" cy="649" r="8"/><text class="l" x="367" y="639">CSPG5</text></g>
<g id="n-PITX1"><circle class="n" cx="414" cy="648" r="8"/><text class="l" x="414" y="638">PITX1</text></g>
<g id="n-SLITRK5"><circle class="n" cx="333" cy="682" r="8"/><text class="l" x="333" y="672">SLITRK5</text></g>
<g id="n-SCGB2A1"><circle class="n" cx="376" cy="684" r="10"/><text class="l" x="376" y="674">SCGB2A1</text></g>
<g id="n-DKK1"><rect x="409" y="669" width="32" height="32" fill="url(#hs)"/><circle class="ring" cx="425" cy="685" r="15" fill="url(#ht)"/><text class="l" x="420" y="667">DKK1</text></g>
<g id="n-SLURP1"><circle class="n" cx="388" cy="717" r="10"/><text class="l" x="385" y="705">SLURP1</text></g>
</svg>
